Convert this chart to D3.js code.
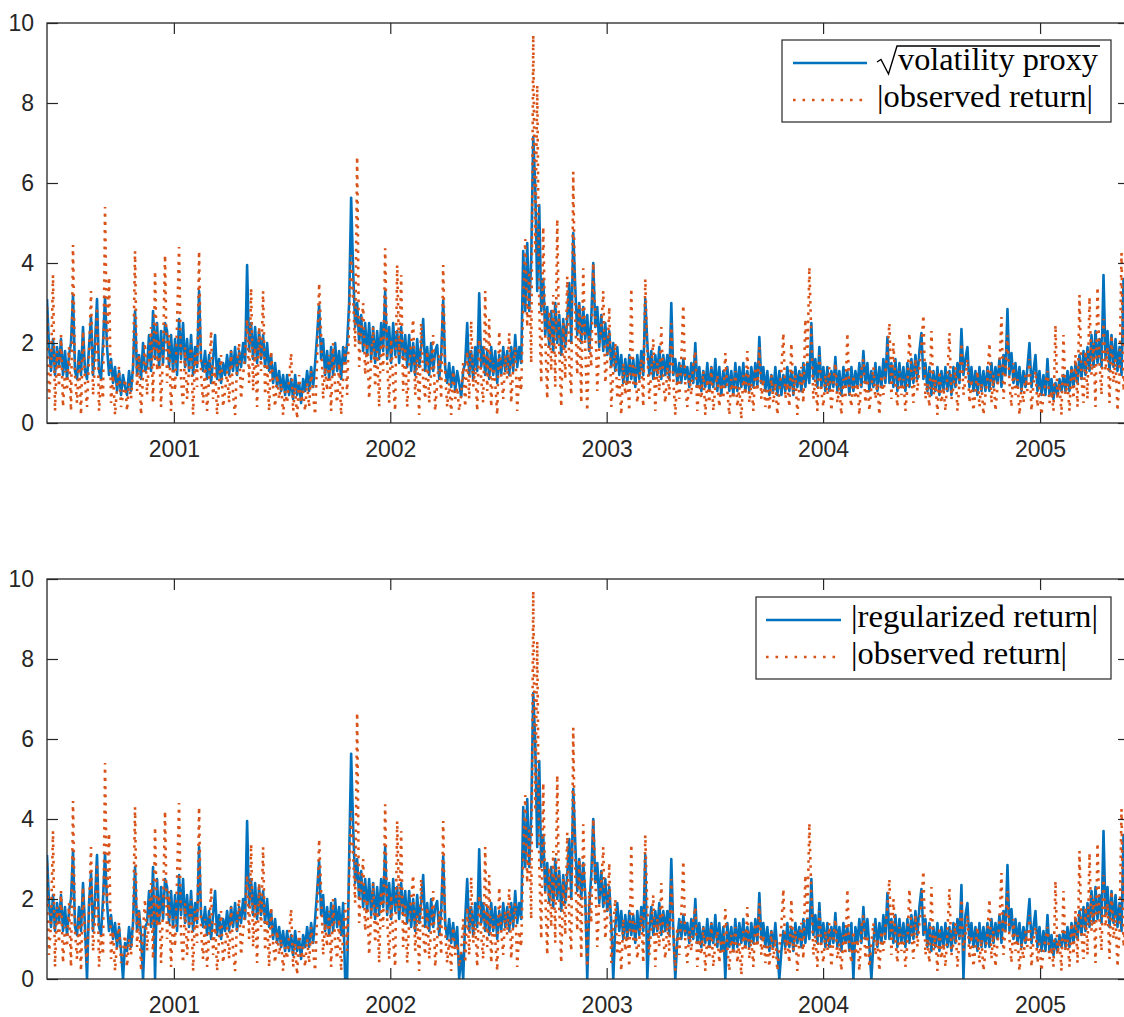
<!DOCTYPE html>
<html>
<head>
<meta charset="utf-8">
<script src="https://cdn.jsdelivr.net/npm/d3@7"></script>
<style>
  body { margin: 0; background: #fff; }
</style>
</head>
<body>
<div id="chart"></div>
<script>
// values, one reading every ~3.4 days starting June 2000
var volProxy = [
  3.1, 1.9, 1.3, 2.1, 1.2, 1.9, 1.4, 2.1, 1.2, 1.8,
  1.1, 1.7, 2.0, 3.2, 1.3, 1.1, 1.8, 1.2, 2.4, 1.3,
  1.1, 1.9, 2.65, 1.2, 2.0, 3.1, 1.3, 1.1, 2.0, 3.15,
  1.9, 1.2, 1.6, 1.0, 1.4, 0.8, 1.3, 0.7, 1.2, 0.9,
  0.7, 1.3, 0.8, 1.4, 2.8, 1.2, 1.7, 1.1, 2.0, 1.3,
  1.4, 2.2, 1.3, 2.8, 1.6, 2.5, 1.4, 2.3, 1.5, 2.5,
  2.3, 1.4, 2.2, 1.3, 2.1, 1.2, 2.6, 1.6, 2.5, 1.4,
  2.1, 1.3, 2.2, 1.2, 1.9, 1.4, 3.3, 1.6, 1.3, 1.8,
  1.1, 1.7, 1.0, 1.6, 2.2, 1.1, 1.6, 1.0, 1.5, 1.2,
  1.7, 1.2, 1.8, 1.3, 1.9, 1.2, 1.8, 1.4, 2.0, 1.5,
  3.95, 1.8, 2.5, 1.6, 2.4, 1.5, 2.3, 1.6, 2.2, 1.4,
  2.0, 1.3, 1.7, 1.0, 1.5, 0.9, 1.3, 0.8, 1.2, 0.7,
  1.2, 0.7, 1.1, 0.6, 1.2, 0.7, 1.0, 0.5, 1.1, 0.8,
  1.3, 0.8, 1.4, 0.9, 1.5, 2.2, 2.95, 1.6, 2.1, 1.2,
  1.8, 1.1, 1.9, 1.2, 2.0, 1.3, 1.8, 1.1, 1.9, 1.5,
  2.0, 3.0, 5.63, 3.8, 2.4, 3.0, 2.0, 2.7, 1.8, 2.5,
  1.7, 2.5, 1.6, 2.4, 1.5, 2.3, 1.6, 2.5, 1.8, 3.3,
  1.6, 2.4, 1.5, 2.5, 1.7, 2.3, 1.5, 2.4, 1.6, 2.2,
  1.4, 2.2, 1.3, 2.0, 1.2, 2.1, 1.4, 1.9, 2.6, 1.3,
  1.9, 1.2, 2.0, 1.3, 1.8, 1.95, 1.1, 1.7, 3.07, 1.4,
  1.0, 1.5, 0.9, 1.4, 0.8, 1.3, 1.0, 0.65, 1.3, 1.5,
  2.5, 1.2, 1.8, 1.1, 1.9, 1.3, 3.24, 1.4, 1.9, 1.2,
  1.8, 1.1, 1.9, 1.2, 1.8, 1.0, 1.7, 1.2, 1.9, 1.3,
  1.8, 1.2, 1.9, 1.3, 2.2, 1.4, 1.9, 1.5, 4.3, 2.8,
  4.5, 2.8, 4.1, 7.15, 5.9, 3.3, 5.45, 2.8, 3.6, 2.2,
  2.9, 1.9, 2.8, 1.8, 3.0, 2.0, 2.7, 1.7, 2.6, 1.9,
  2.6, 3.5, 2.0, 4.75, 3.4, 2.2, 3.0, 2.0, 2.9, 2.1,
  2.7, 1.8, 2.6, 4.0, 2.4, 2.9, 1.9, 2.7, 1.8, 2.5,
  1.7, 2.3, 1.4, 2.0, 1.3, 1.9, 1.2, 1.7, 1.0, 1.6,
  1.0, 1.7, 1.1, 1.6, 0.9, 1.7, 1.1, 1.8, 1.2, 3.1,
  2.0, 1.2, 1.8, 1.1, 1.7, 1.2, 1.9, 1.1, 1.7, 1.2,
  1.7, 1.1, 3.0, 1.2, 1.6, 1.0, 1.5, 1.0, 1.6, 1.1,
  1.4, 0.9, 1.5, 1.0, 2.0, 0.9, 1.4, 0.8, 1.3, 0.9,
  1.5, 0.8, 1.4, 0.9, 1.6, 0.8, 1.4, 0.7, 1.3, 0.9,
  1.4, 0.8, 1.3, 0.7, 1.5, 0.8, 1.4, 0.9, 1.5, 0.8,
  1.3, 0.8, 1.4, 0.9, 1.5, 0.9, 2.15, 1.0, 1.4, 0.8,
  1.3, 0.7, 1.2, 0.8, 1.4, 0.7, 1.3, 0.7, 1.2, 0.8,
  1.4, 0.8, 1.3, 0.7, 1.4, 0.9, 1.3, 0.8, 1.5, 0.9,
  1.5, 1.0, 2.5, 1.1, 1.6, 0.9, 1.9, 0.9, 1.4, 0.8,
  1.4, 0.8, 1.3, 0.9, 1.65, 0.8, 1.3, 0.7, 1.4, 0.9,
  1.3, 0.7, 1.4, 0.8, 1.3, 0.9, 1.5, 0.9, 1.8, 1.0,
  1.5, 0.8, 1.3, 0.9, 1.5, 0.8, 1.4, 0.9, 1.6, 1.0,
  2.15, 1.0, 1.5, 0.9, 1.6, 0.8, 1.5, 0.9, 1.4, 0.8,
  1.5, 0.9, 1.6, 1.0, 1.7, 1.1, 1.8, 2.25, 1.1, 1.5,
  0.8, 1.4, 0.7, 1.3, 0.8, 1.4, 0.7, 1.3, 0.8, 1.4,
  0.8, 1.3, 0.7, 1.4, 0.9, 1.5, 1.0, 2.35, 1.2, 1.6,
  1.9, 0.9, 1.4, 0.8, 1.3, 0.7, 1.4, 0.8, 1.3, 0.8,
  1.4, 0.8, 1.5, 0.9, 1.4, 1.0, 1.6, 0.9, 1.7, 1.2,
  2.85, 1.2, 1.75, 1.0, 1.5, 0.9, 1.4, 0.8, 1.3, 0.9,
  1.4, 2.0, 0.9, 1.3, 1.7, 0.8, 1.3, 0.7, 1.2, 0.7,
  1.6, 0.7, 1.1, 0.6, 1.0, 0.7, 1.1, 0.8, 1.2, 0.8,
  1.3, 0.8, 1.4, 0.9, 1.5, 1.0, 1.7, 1.1, 1.8, 1.2,
  1.9, 1.3, 2.2, 1.4, 2.3, 1.5, 2.1, 1.4, 3.7, 1.6,
  2.3, 1.3, 2.2, 1.4, 2.1, 1.3, 1.9, 1.2, 3.6, 1.5
];

// same readings as the proxy except where the regularized return drops to zero
var regReturn = [
  3.1, 1.9, 1.3, 2.1, 1.2, 1.9, 1.4, 2.1, 1.2, 1.8,
  1.1, 1.7, 2.0, 3.2, 1.3, 1.1, 1.8, 1.2, 2.4, 1.3,
  0.0, 1.9, 2.65, 1.2, 2.0, 3.1, 1.3, 1.1, 2.0, 3.15,
  1.9, 1.2, 1.6, 1.0, 1.4, 0.8, 1.3, 0.7, 0.0, 0.9,
  0.7, 1.3, 0.8, 1.4, 2.8, 1.2, 1.7, 1.1, 0.0, 1.3,
  1.4, 2.2, 1.3, 2.8, 0.0, 2.5, 1.4, 2.3, 1.5, 2.5,
  2.3, 1.4, 2.2, 1.3, 2.1, 1.2, 2.6, 1.6, 2.5, 1.4,
  2.1, 1.3, 2.2, 1.2, 1.9, 1.4, 3.3, 1.6, 1.3, 1.8,
  1.1, 1.7, 1.0, 1.6, 2.2, 1.1, 1.6, 1.0, 1.5, 1.2,
  1.7, 1.2, 1.8, 1.3, 1.9, 1.2, 1.8, 1.4, 2.0, 1.5,
  3.95, 1.8, 2.5, 1.6, 2.4, 1.5, 2.3, 1.6, 2.2, 1.4,
  2.0, 1.3, 1.7, 1.0, 1.5, 0.9, 1.3, 0.8, 1.2, 0.7,
  1.2, 0.7, 1.1, 0.6, 1.2, 0.7, 1.0, 0.5, 1.1, 0.8,
  1.3, 0.8, 1.4, 0.9, 1.5, 2.2, 2.95, 1.6, 2.1, 1.2,
  1.8, 1.1, 1.9, 1.2, 2.0, 1.3, 1.8, 1.1, 1.9, 0.0,
  0.0, 3.0, 5.63, 3.8, 2.4, 3.0, 2.0, 2.7, 1.8, 2.5,
  1.7, 2.5, 1.6, 2.4, 1.5, 2.3, 1.6, 2.5, 1.8, 3.3,
  1.6, 2.4, 1.5, 2.5, 1.7, 2.3, 1.5, 2.4, 1.6, 2.2,
  1.4, 2.2, 1.3, 2.0, 1.2, 2.1, 1.4, 1.9, 2.6, 1.3,
  1.9, 1.2, 2.0, 1.3, 1.8, 1.95, 1.1, 1.7, 3.07, 1.4,
  1.0, 1.5, 0.9, 1.4, 0.8, 1.3, 0.0, 0.65, 0.0, 1.5,
  2.5, 1.2, 1.8, 1.1, 1.9, 1.3, 3.24, 1.4, 1.9, 1.2,
  1.8, 1.1, 1.9, 1.2, 1.8, 1.0, 1.7, 1.2, 1.9, 1.3,
  1.8, 1.2, 1.9, 1.3, 2.2, 1.4, 1.9, 1.5, 4.3, 2.8,
  4.5, 2.8, 4.1, 7.15, 5.9, 3.3, 5.45, 2.8, 3.6, 2.2,
  2.9, 1.9, 2.8, 1.8, 3.0, 2.0, 2.7, 1.7, 2.6, 1.9,
  2.6, 3.5, 2.0, 4.75, 3.4, 2.2, 3.0, 2.0, 2.9, 2.1,
  0.0, 1.8, 2.6, 4.0, 2.4, 2.9, 1.9, 2.7, 1.8, 2.5,
  1.7, 2.3, 1.4, 0.0, 1.3, 1.9, 1.2, 1.7, 1.0, 1.6,
  1.0, 1.7, 1.1, 1.6, 0.9, 1.7, 1.1, 1.8, 1.2, 3.1,
  0.0, 1.2, 1.8, 1.1, 1.7, 1.2, 1.9, 1.1, 1.7, 1.2,
  1.7, 1.1, 3.0, 1.2, 0.0, 1.0, 1.5, 1.0, 1.6, 1.1,
  1.4, 0.9, 1.5, 1.0, 2.0, 0.9, 1.4, 0.8, 1.3, 0.9,
  1.5, 0.8, 1.4, 0.9, 1.6, 0.8, 1.4, 0.7, 1.3, 0.0,
  1.4, 0.8, 1.3, 0.7, 1.5, 0.8, 1.4, 0.9, 1.5, 0.8,
  1.3, 0.8, 1.4, 0.9, 1.5, 0.9, 2.15, 1.0, 1.4, 0.8,
  1.3, 0.7, 1.2, 0.8, 1.4, 0.7, 0.0, 0.7, 1.2, 0.8,
  1.4, 0.8, 1.3, 0.7, 1.4, 0.9, 1.3, 0.8, 1.5, 0.9,
  1.5, 1.0, 2.5, 1.1, 1.6, 0.9, 1.9, 0.9, 1.4, 0.8,
  1.4, 0.8, 1.3, 0.9, 1.65, 0.8, 1.3, 0.7, 1.4, 0.9,
  1.3, 0.7, 1.4, 0.0, 1.3, 0.9, 1.5, 0.9, 1.8, 1.0,
  1.5, 0.8, 0.0, 0.9, 1.5, 0.8, 1.4, 0.9, 1.6, 1.0,
  2.15, 1.0, 1.5, 0.9, 1.6, 0.8, 1.5, 0.9, 1.4, 0.8,
  1.5, 0.9, 1.6, 1.0, 1.7, 1.1, 1.8, 2.25, 1.1, 1.5,
  0.8, 1.4, 0.7, 1.3, 0.8, 1.4, 0.7, 1.3, 0.8, 1.4,
  0.8, 1.3, 0.7, 1.4, 0.9, 1.5, 1.0, 2.35, 0.0, 1.6,
  1.9, 0.9, 1.4, 0.8, 1.3, 0.7, 1.4, 0.8, 1.3, 0.8,
  1.4, 0.8, 1.5, 0.9, 1.4, 1.0, 1.6, 0.9, 1.7, 1.2,
  2.85, 1.2, 1.75, 1.0, 1.5, 0.9, 1.4, 0.8, 1.3, 0.9,
  1.4, 2.0, 0.9, 1.3, 1.7, 0.8, 1.3, 0.7, 1.2, 0.7,
  1.6, 0.7, 1.1, 0.6, 1.0, 0.7, 1.1, 0.8, 1.2, 0.8,
  1.3, 0.8, 1.4, 0.9, 1.5, 1.0, 1.7, 1.1, 1.8, 1.2,
  1.9, 1.3, 2.2, 1.4, 2.3, 1.5, 2.1, 1.4, 3.7, 1.6,
  2.3, 1.3, 2.2, 1.4, 2.1, 1.3, 1.9, 1.2, 3.6, 1.5
];

var obsReturn = [
  2.9, 0.6, 1.4, 3.7, 0.3, 1.8, 0.9, 2.2, 0.4, 1.3,
  0.8, 1.9, 0.3, 4.45, 1.2, 0.5, 1.6, 0.2, 2.3, 1.0,
  0.4, 1.7, 3.3, 0.7, 1.5, 2.9, 0.3, 1.1, 0.6, 5.4,
  1.9, 3.65, 0.5, 1.2, 0.2, 0.9, 1.4, 0.4, 0.7, 1.1,
  0.3, 1.0, 0.6, 1.3, 4.3, 0.8, 1.7, 0.2, 1.2, 2.0,
  0.7, 1.6, 2.4, 0.5, 3.8, 1.3, 2.1, 0.4, 1.8, 4.2,
  1.0, 2.2, 0.3, 1.5, 0.8, 2.5, 4.4, 1.1, 0.4, 1.9,
  0.6, 1.4, 2.0, 0.2, 1.7, 0.9, 4.3, 1.2, 0.5, 1.5,
  0.3, 1.1, 2.3, 0.6, 1.4, 0.2, 1.0, 1.7, 0.4, 0.8,
  1.3, 0.5, 1.8, 0.7, 0.2, 1.5, 2.0, 0.6, 1.2, 1.7,
  2.6, 1.0, 3.37, 0.8, 1.9, 0.4, 2.4, 1.3, 3.3, 0.7,
  1.5, 0.3, 1.8, 0.9, 0.4, 1.2, 0.6, 1.0, 0.2, 0.8,
  0.5, 1.1, 1.75, 0.3, 0.9, 0.1, 1.2, 0.5, 0.8, 0.3,
  1.0, 0.4, 1.3, 0.7, 0.2, 1.6, 3.5, 2.2, 0.6, 1.4,
  0.8, 1.7, 0.3, 2.0, 0.9, 0.5, 1.5, 0.2, 1.1, 1.9,
  0.7, 2.6, 4.2, 3.1, 1.9, 6.66, 1.4, 2.3, 3.0, 1.2,
  2.0, 0.6, 1.6, 2.4, 0.9, 1.8, 0.4, 2.2, 1.3, 4.37,
  1.5, 0.5, 2.1, 1.0, 0.3, 3.95, 1.7, 3.7, 0.8, 1.9,
  0.4, 1.4, 2.0, 2.6, 0.7, 1.6, 0.2, 2.5, 1.1, 0.6,
  1.8, 0.5, 1.3, 2.2, 0.3, 1.0, 1.7, 0.6, 3.95, 1.2,
  0.4, 1.0, 0.2, 1.3, 0.6, 0.9, 0.3, 0.7, 1.5, 0.4,
  1.8, 0.6, 2.55, 0.9, 1.4, 0.3, 2.1, 1.1, 0.5, 3.3,
  0.8, 2.6, 0.4, 1.5, 1.0, 0.2, 2.3, 1.2, 0.6, 1.7,
  1.1, 2.25, 0.5, 1.4, 1.9, 0.3, 1.2, 0.8, 3.0, 4.6,
  2.4, 3.8, 1.5, 9.7, 4.2, 8.45, 2.9, 1.0, 4.9, 2.2,
  0.6, 2.8, 1.3, 3.2, 0.9, 5.1, 1.8, 0.4, 2.5, 1.1,
  3.66, 1.5, 0.7, 6.28, 2.6, 1.2, 3.0, 0.5, 3.87, 1.9,
  0.3, 2.2, 1.4, 4.0, 2.7, 0.8, 1.9, 2.4, 3.3, 1.0,
  1.6, 2.9, 0.4, 1.3, 2.0, 0.6, 1.1, 0.2, 1.5, 0.7,
  1.2, 0.3, 3.37, 0.9, 1.4, 0.5, 1.0, 1.6, 0.4, 3.6,
  1.8, 0.6, 1.3, 2.1, 0.3, 1.5, 0.8, 2.4, 1.0, 0.5,
  1.4, 0.7, 2.5, 1.1, 0.2, 1.3, 0.6, 1.6, 2.95, 0.9,
  0.4, 1.2, 0.7, 1.5, 1.8, 0.3, 1.0, 0.6, 1.3, 0.2,
  1.1, 0.5, 1.4, 0.3, 0.9, 1.2, 0.4, 1.0, 0.6, 1.75,
  0.8, 0.2, 1.1, 0.6, 1.3, 0.4, 0.9, 0.1, 1.2, 0.7,
  1.8, 0.5, 1.0, 0.3, 1.4, 0.8, 1.9, 0.6, 1.1, 0.4,
  0.9, 0.3, 1.2, 0.5, 1.0, 0.2, 0.8, 1.3, 2.25, 0.6,
  1.0, 0.4, 2.0, 0.7, 1.2, 0.2, 0.9, 1.4, 0.5, 2.6,
  1.5, 3.9, 2.1, 0.6, 1.1, 0.3, 1.7, 0.8, 0.4, 1.2,
  0.7, 1.4, 0.3, 1.0, 1.5, 0.5, 0.9, 0.2, 1.1, 0.6,
  2.25, 0.8, 0.4, 1.2, 0.6, 1.0, 0.2, 1.3, 1.6, 0.5,
  1.1, 0.3, 0.9, 1.4, 0.6, 1.0, 0.2, 1.2, 0.7, 1.3,
  1.8, 2.5, 0.6, 2.0, 1.0, 0.4, 1.3, 0.7, 1.1, 0.3,
  0.9, 2.25, 1.2, 0.5, 1.6, 0.8, 1.4, 1.9, 2.7, 0.6,
  1.0, 0.4, 2.3, 0.7, 1.1, 0.2, 1.3, 0.5, 0.9, 0.3,
  1.2, 2.25, 0.6, 0.9, 1.4, 0.3, 1.0, 2.0, 0.7, 1.1,
  1.6, 0.5, 1.1, 0.3, 0.8, 1.3, 0.4, 1.0, 0.2, 0.7,
  1.1, 2.0, 0.5, 1.2, 0.3, 0.9, 1.4, 2.65, 0.6, 1.3,
  2.2, 1.0, 0.4, 1.5, 0.7, 1.1, 0.2, 0.9, 0.5, 1.2,
  0.8, 1.6, 0.3, 1.0, 1.3, 0.4, 0.9, 0.2, 0.7, 1.0,
  1.3, 0.5, 0.8, 0.3, 2.45, 0.6, 1.0, 0.2, 2.2, 0.7,
  1.0, 0.3, 1.4, 0.6, 1.7, 0.4, 3.2, 1.1, 0.5, 1.8,
  0.6, 3.15, 1.2, 2.0, 0.4, 3.4, 1.5, 0.7, 2.6, 1.3,
  1.9, 0.5, 2.2, 1.0, 1.6, 0.3, 1.2, 4.25, 0.8, 1.4
];

var yTicks = [0, 2, 4, 6, 8, 10];
var yearTicks = [2001, 2002, 2003, 2004, 2005];

var sampleStart = new Date(2000, 5, 1),
    sampleStepHours = 81; // ~3.4 days between readings

var blue = "#0072BD", orange = "#D95319", axisColor = "#262626";

var svg = d3.select("#chart")
  .append("svg")
  .attr("width", 1124)
  .attr("height", 1017);

// plot box runs a few pixels past the right edge of the window, as in the picture
var left = 47, right = 1129, plotH = 400;

var x = d3.scaleTime()
  .domain([new Date(2000, 5, 1), new Date(2005, 4, 31)])
  .range([left, right]);

function sampleDate(i) { return d3.timeHour.offset(sampleStart, i * sampleStepHours); }

var yearDates = yearTicks.map(function(yr) { return new Date(yr, 0, 1); });

function styleAxis(g) {
  g.select(".domain").remove();
  g.selectAll(".tick line").attr("stroke", axisColor).attr("stroke-width", 1.2);
  g.selectAll(".tick text")
    .attr("fill", axisColor)
    .style("font-family", "'Liberation Sans', Arial, sans-serif")
    .style("font-size", "23px");
}

function drawPanel(top, blueData, legend) {
  var y = d3.scaleLinear().domain([0, 10]).range([top + plotH, top]);

  var clipId = "clip" + top;
  svg.append("clipPath").attr("id", clipId)
    .append("rect")
      .attr("x", left).attr("y", top)
      .attr("width", right - left).attr("height", plotH);

  var line = d3.line()
    .x(function(d, i) { return x(sampleDate(i)); })
    .y(function(d) { return y(d); });

  var plot = svg.append("g").attr("clip-path", "url(#" + clipId + ")");

  plot.append("path")
    .datum(blueData)
    .attr("d", line)
    .attr("fill", "none")
    .attr("stroke", blue)
    .attr("stroke-width", 2.6)
    .attr("stroke-linejoin", "round");

  plot.append("path")
    .datum(obsReturn)
    .attr("d", line)
    .attr("fill", "none")
    .attr("stroke", orange)
    .attr("stroke-width", 2.6)
    .attr("stroke-dasharray", "2.6,5.6");

  // axes, ticks pointing inward on all four sides
  svg.append("g")
    .attr("transform", "translate(" + left + ",0)")
    .call(d3.axisLeft(y).tickValues(yTicks).tickSizeInner(-11).tickSizeOuter(0).tickPadding(13))
    .call(styleAxis);

  svg.append("g")
    .attr("transform", "translate(" + right + ",0)")
    .call(d3.axisRight(y).tickValues(yTicks).tickSizeInner(-11).tickSizeOuter(0).tickFormat(""))
    .call(styleAxis);

  svg.append("g")
    .attr("transform", "translate(0," + (top + plotH) + ")")
    .call(d3.axisBottom(x).tickValues(yearDates).tickFormat(d3.timeFormat("%Y"))
      .tickSizeInner(-11).tickSizeOuter(0).tickPadding(18))
    .call(styleAxis);

  svg.append("g")
    .attr("transform", "translate(0," + top + ")")
    .call(d3.axisTop(x).tickValues(yearDates).tickFormat("").tickSizeInner(-11).tickSizeOuter(0))
    .call(styleAxis);

  svg.append("rect")
    .attr("x", left).attr("y", top)
    .attr("width", right - left).attr("height", plotH)
    .attr("fill", "none")
    .attr("stroke", axisColor)
    .attr("stroke-width", 1.3);

  // legend
  var lg = svg.append("g");
  lg.append("rect")
    .attr("x", legend.x).attr("y", legend.y)
    .attr("width", legend.w).attr("height", legend.h)
    .attr("fill", "#fff")
    .attr("stroke", axisColor)
    .attr("stroke-width", 1.2);

  legend.rows.forEach(function(r) {
    var sample = lg.append("line")
      .attr("x1", legend.sx1).attr("x2", legend.sx2)
      .attr("y1", r.y).attr("y2", r.y)
      .attr("stroke", r.dotted ? orange : blue)
      .attr("stroke-width", 2.6);
    if (r.dotted) sample.attr("stroke-dasharray", "2.6,6.9");

    var by = r.y + 7;
    lg.append("text")
      .attr("x", r.tx).attr("y", by)
      .attr("textLength", r.tl)
      .attr("lengthAdjust", "spacingAndGlyphs")
      .style("font-family", "'Liberation Serif', 'Times New Roman', serif")
      .style("font-size", "31px")
      .attr("fill", "#000")
      .text(r.text);

    if (r.sqrt) {
      lg.append("path")
        .attr("d", "M" + (r.tx - 21) + "," + (by - 8) +
                   "L" + (r.tx - 17) + "," + (by - 10.5) +
                   "L" + (r.tx - 9.5) + "," + (by + 4) +
                   "L" + (r.tx - 1) + "," + (by - 24) +
                   "H" + (r.tx + r.tl + 2))
        .attr("fill", "none")
        .attr("stroke", "#000")
        .attr("stroke-width", 1.4);
    }
  });
}

drawPanel(23, volProxy, {
  x: 782, y: 40, w: 329, h: 82, sx1: 793, sx2: 867,
  rows: [
    {y: 63, text: "volatility proxy", tx: 898, tl: 200, sqrt: true},
    {y: 100, text: "|observed return|", tx: 877, tl: 216, dotted: true}
  ]
});

drawPanel(579, regReturn, {
  x: 756, y: 597, w: 355, h: 82, sx1: 766, sx2: 841,
  rows: [
    {y: 620, text: "|regularized return|", tx: 851, tl: 247},
    {y: 657, text: "|observed return|", tx: 851, tl: 216, dotted: true}
  ]
});
</script>
</body>
</html>
